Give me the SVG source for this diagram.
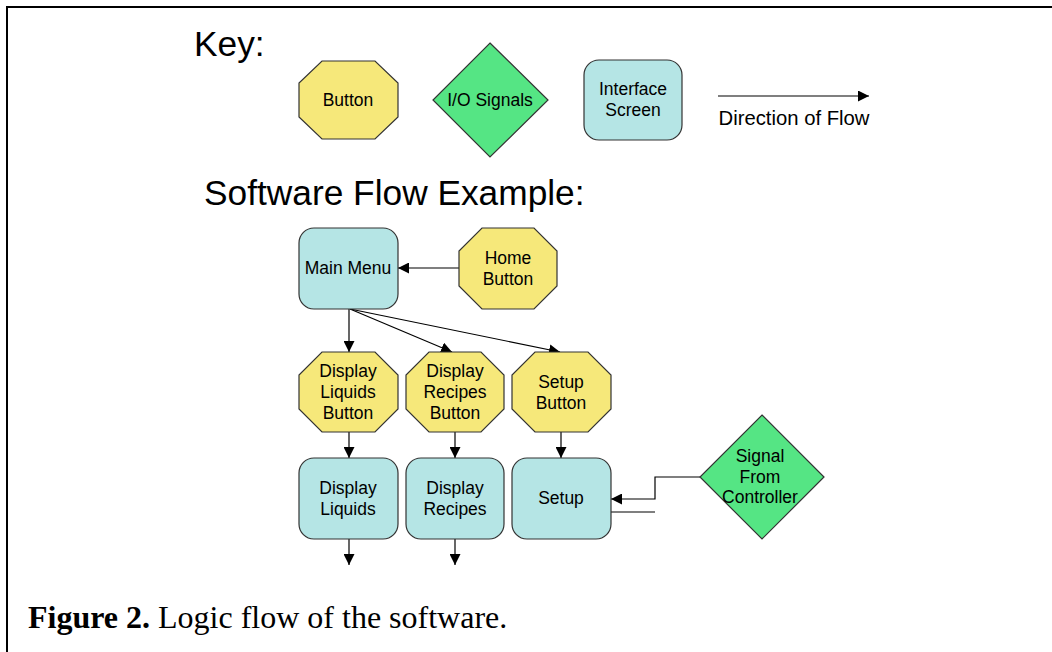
<svg xmlns="http://www.w3.org/2000/svg" width="1052" height="652" viewBox="0 0 1052 652">
<style>
.btn{fill:#F6E87A;stroke:#333;stroke-width:1.2}
.io{fill:#55E584;stroke:#333;stroke-width:1.2}
.scr{fill:#B5E5E5;stroke:#333;stroke-width:1.2}
.lbl{font-family:"Liberation Sans",Arial,sans-serif;font-size:17.5px;fill:#000;text-anchor:middle}
.big{font-family:"Liberation Sans",Arial,sans-serif;font-size:35.3px;fill:#000}
.cap{font-family:"Liberation Serif","Times New Roman",serif;font-size:32px;fill:#000}
.con{fill:none;stroke:#000;stroke-width:1.2}
</style>
<defs>
<marker id="ah" viewBox="0 0 10 10" refX="10" refY="5" markerWidth="11" markerHeight="11" markerUnits="userSpaceOnUse" orient="auto">
<path d="M0,0 L10,5 L0,10 z" fill="#000"/>
</marker>
</defs>
<rect width="1052" height="652" fill="#fff"/>
<path d="M7,652 V7 H1052" fill="none" stroke="#000" stroke-width="2"/>

<g id="key">
<text class="big" x="194" y="56">Key:</text>
<g id="key-button">
<polygon class="btn" points="322,61 375,61 398,83 398,117 375,139 322,139 299,117 299,83"/>
<text class="lbl" x="348" y="106">Button</text>
</g>
<g id="key-io">
<polygon class="io" points="490,43 548,100 490,157 433,100"/>
<text class="lbl" x="490" y="106">I/O Signals</text>
</g>
<g id="key-screen">
<rect class="scr" x="584" y="60" width="98" height="80" rx="15"/>
<text class="lbl" x="633" y="95">Interface</text>
<text class="lbl" x="633" y="116">Screen</text>
</g>
<g id="key-flow">
<line class="con" x1="718" y1="96" x2="869" y2="96" marker-end="url(#ah)"/>
<text class="lbl" x="794" y="125" style="font-size:20.3px">Direction of Flow</text>
</g>
</g>

<text class="big" x="204" y="205">Software Flow Example:</text>

<g id="connectors">
<line class="con" x1="459" y1="268" x2="398" y2="268" marker-end="url(#ah)"/>
<line class="con" x1="349" y1="309" x2="349" y2="352" marker-end="url(#ah)"/>
<line class="con" x1="350" y1="309" x2="452" y2="352" marker-end="url(#ah)"/>
<line class="con" x1="350" y1="309" x2="560" y2="352" marker-end="url(#ah)"/>
<line class="con" x1="349" y1="432" x2="349" y2="458" marker-end="url(#ah)"/>
<line class="con" x1="455" y1="432" x2="455" y2="458" marker-end="url(#ah)"/>
<line class="con" x1="561" y1="432" x2="561" y2="458" marker-end="url(#ah)"/>
<line class="con" x1="349" y1="539" x2="349" y2="565" marker-end="url(#ah)"/>
<line class="con" x1="455" y1="539" x2="455" y2="565" marker-end="url(#ah)"/>
<polyline class="con" points="700,477 655,477 655,499 611,499" marker-end="url(#ah)"/>
<line class="con" x1="611" y1="512" x2="655" y2="512"/>
</g>

<g id="main-menu">
<rect class="scr" x="299" y="228" width="99" height="81" rx="15"/>
<text class="lbl" x="348" y="274">Main Menu</text>
</g>
<g id="home-button">
<polygon class="btn" points="482,228 534,228 557,251 557,286 534,309 482,309 459,286 459,251"/>
<text class="lbl" x="508" y="264">Home</text>
<text class="lbl" x="508" y="285">Button</text>
</g>
<g id="display-liquids-button">
<polygon class="btn" points="322,352 375,352 398,375 398,409 375,432 322,432 299,409 299,375"/>
<text class="lbl" x="348" y="377">Display</text>
<text class="lbl" x="348" y="398">Liquids</text>
<text class="lbl" x="348" y="419">Button</text>
</g>
<g id="display-recipes-button">
<polygon class="btn" points="429,352 481,352 504,375 504,409 481,432 429,432 406,409 406,375"/>
<text class="lbl" x="455" y="377">Display</text>
<text class="lbl" x="455" y="398">Recipes</text>
<text class="lbl" x="455" y="419">Button</text>
</g>
<g id="setup-button">
<polygon class="btn" points="535,352 588,352 611,375 611,409 588,432 535,432 512,409 512,375"/>
<text class="lbl" x="561" y="388">Setup</text>
<text class="lbl" x="561" y="409">Button</text>
</g>
<g id="display-liquids">
<rect class="scr" x="299" y="458" width="99" height="81" rx="15"/>
<text class="lbl" x="348" y="494">Display</text>
<text class="lbl" x="348" y="515">Liquids</text>
</g>
<g id="display-recipes">
<rect class="scr" x="406" y="458" width="98" height="81" rx="15"/>
<text class="lbl" x="455" y="494">Display</text>
<text class="lbl" x="455" y="515">Recipes</text>
</g>
<g id="setup">
<rect class="scr" x="512" y="458" width="99" height="81" rx="15"/>
<text class="lbl" x="561" y="504">Setup</text>
</g>
<g id="signal">
<polygon class="io" points="762,415 824,477 762,539 700,477"/>
<text class="lbl" x="760" y="462">Signal</text>
<text class="lbl" x="760" y="483">From</text>
<text class="lbl" x="760" y="503">Controller</text>
</g>

<text class="cap" x="28" y="628"><tspan font-weight="bold">Figure 2.</tspan> Logic flow of the software.</text>
</svg>
